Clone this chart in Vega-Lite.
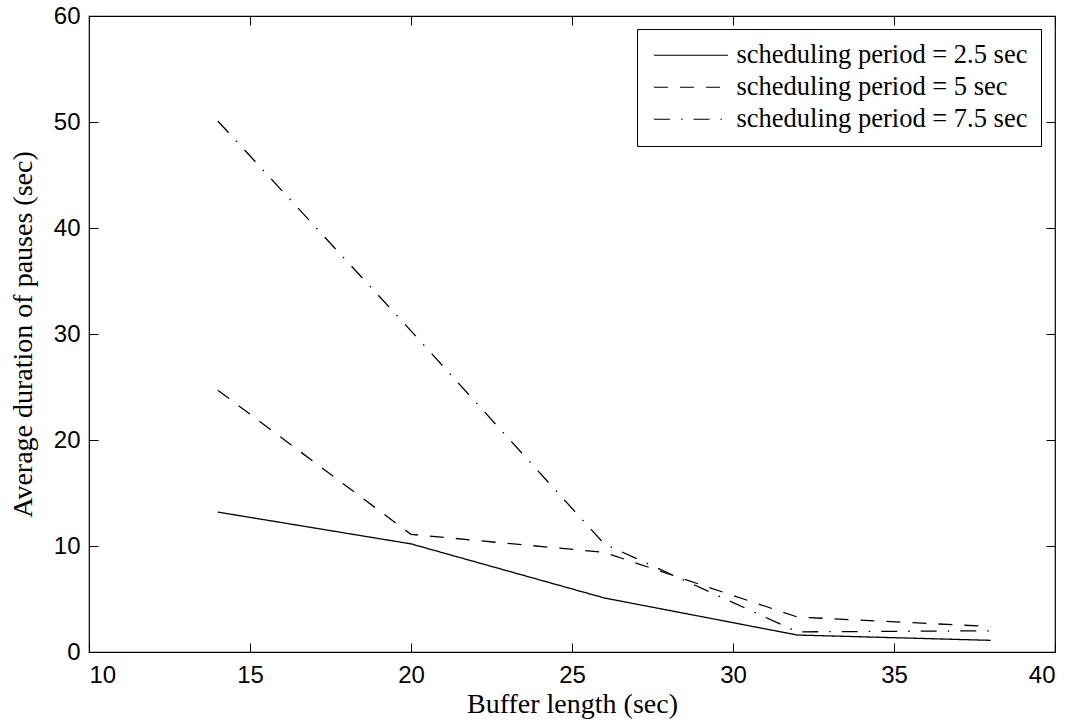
{
  "$schema": "https://vega.github.io/schema/vega-lite/v6.json",
  "width": 966,
  "height": 636,
  "autosize": {"type": "none"},
  "padding": {"left": 89, "top": 16, "right": 25, "bottom": 73},
  "background": "white",
  "config": {
    "view": {"stroke": "black", "strokeWidth": 1.2},
    "axis": {
      "domain": false,
      "grid": false,
      "tickColor": "black",
      "tickSize": -9,
      "tickWidth": 1,
      "labelFont": "Liberation Sans",
      "labelFontSize": 24,
      "labelColor": "black",
      "titleFont": "Liberation Serif",
      "titleFontSize": 28,
      "titleFontWeight": "normal",
      "titleColor": "black"
    },
    "legend": {
      "strokeColor": "black",
      "fillColor": "white",
      "padding": 13,
      "labelFont": "Liberation Serif",
      "labelFontSize": 26.5,
      "labelColor": "black",
      "labelLimit": 500,
      "symbolType": "M-1,0H7",
      "symbolSize": 342,
      "symbolStrokeWidth": 1.2,
      "symbolStrokeColor": "black",
      "labelOffset": 60,
      "rowPadding": 5
    }
  },
  "data": {
    "values": [
      {"buffer": 14, "pause": 13.2, "series": "scheduling period = 2.5 sec"},
      {"buffer": 20, "pause": 10.2, "series": "scheduling period = 2.5 sec"},
      {"buffer": 26, "pause": 5.1, "series": "scheduling period = 2.5 sec"},
      {"buffer": 32, "pause": 1.6, "series": "scheduling period = 2.5 sec"},
      {"buffer": 38, "pause": 1.1, "series": "scheduling period = 2.5 sec"},
      {"buffer": 14, "pause": 24.7, "series": "scheduling period = 5 sec"},
      {"buffer": 20, "pause": 11.1, "series": "scheduling period = 5 sec"},
      {"buffer": 26, "pause": 9.4, "series": "scheduling period = 5 sec"},
      {"buffer": 32, "pause": 3.3, "series": "scheduling period = 5 sec"},
      {"buffer": 38, "pause": 2.4, "series": "scheduling period = 5 sec"},
      {"buffer": 14, "pause": 50.1, "series": "scheduling period = 7.5 sec"},
      {"buffer": 20, "pause": 30.3, "series": "scheduling period = 7.5 sec"},
      {"buffer": 26, "pause": 10.2, "series": "scheduling period = 7.5 sec"},
      {"buffer": 32, "pause": 1.9, "series": "scheduling period = 7.5 sec"},
      {"buffer": 38, "pause": 2.0, "series": "scheduling period = 7.5 sec"}
    ]
  },
  "resolve": {"axis": {"x": "independent", "y": "independent"}},
  "layer": [
    {
      "mark": {"type": "line", "color": "black", "strokeWidth": 1.3},
      "encoding": {
        "x": {
          "field": "buffer", "type": "quantitative",
          "scale": {"domain": [10, 40], "nice": false, "zero": false},
          "axis": {"orient": "bottom", "values": [10, 15, 20, 25, 30, 35, 40], "labelPadding": 20, "title": "Buffer length (sec)", "titlePadding": 3}
        },
        "y": {
          "field": "pause", "type": "quantitative",
          "scale": {"domain": [0, 60], "nice": false},
          "axis": {"orient": "left", "values": [0, 10, 20, 30, 40, 50, 60], "labelPadding": 18, "title": "Average duration of pauses (sec)", "titlePadding": 16}
        },
        "strokeDash": {
          "field": "series", "type": "nominal",
          "scale": {
            "domain": ["scheduling period = 2.5 sec", "scheduling period = 5 sec", "scheduling period = 7.5 sec"],
            "range": [[1, 0], [14, 12], [16, 11, 1.5, 11]]
          },
          "legend": {"title": null, "orient": "none", "legendX": 548, "legendY": 13}
        }
      }
    },
    {
      "mark": {"type": "line", "opacity": 0},
      "encoding": {
        "x": {
          "field": "buffer", "type": "quantitative",
          "axis": {"orient": "top", "values": [10, 15, 20, 25, 30, 35, 40], "labels": false, "title": null}
        },
        "y": {
          "field": "pause", "type": "quantitative",
          "axis": {"orient": "right", "values": [0, 10, 20, 30, 40, 50, 60], "labels": false, "title": null}
        },
        "detail": {"field": "series"}
      }
    }
  ]
}
